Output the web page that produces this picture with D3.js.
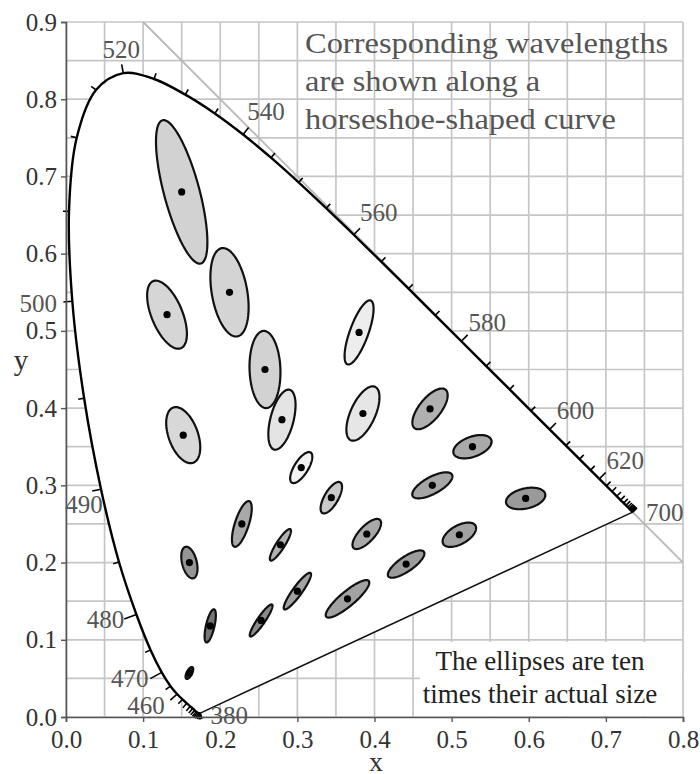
<!DOCTYPE html>
<html>
<head>
<meta charset="utf-8">
<script src="https://cdn.jsdelivr.net/npm/d3@7"></script>
<style>
  html, body { margin: 0; padding: 0; background: #fff; }
  svg { display: block; }
  text { font-family: "Liberation Serif", "Times New Roman", serif; }
</style>
</head>
<body>
<svg id="chart" width="700" height="774"></svg>
<script>
// ---------------- DATA ----------------
// CIE 1931 spectral locus, 5 nm steps
const wavelengths = [380,385,390,395,400,405,410,415,420,425,430,435,440,445,450,455,460,465,470,475,480,485,490,495,500,505,510,515,520,525,530,535,540,545,550,555,560,565,570,575,580,585,590,595,600,605,610,615,620,625,630,635,640,645,650,655,660,665,670,675,680,685,690,695,700];
const locusX = [0.1741,0.1740,0.1738,0.1736,0.1733,0.1730,0.1726,0.1721,0.1714,0.1703,0.1689,0.1669,0.1644,0.1611,0.1566,0.1510,0.1440,0.1355,0.1241,0.1096,0.0913,0.0687,0.0454,0.0235,0.0082,0.0039,0.0139,0.0389,0.0743,0.1142,0.1547,0.1929,0.2296,0.2658,0.3016,0.3373,0.3731,0.4087,0.4441,0.4788,0.5125,0.5448,0.5752,0.6029,0.6270,0.6482,0.6658,0.6801,0.6915,0.7006,0.7079,0.7140,0.7190,0.7230,0.7260,0.7283,0.7300,0.7311,0.7320,0.7327,0.7334,0.7340,0.7344,0.7346,0.7347];
const locusY = [0.0050,0.0050,0.0049,0.0049,0.0048,0.0048,0.0048,0.0048,0.0051,0.0058,0.0069,0.0086,0.0109,0.0138,0.0177,0.0227,0.0297,0.0399,0.0578,0.0868,0.1327,0.2007,0.2950,0.4127,0.5384,0.6548,0.7502,0.8120,0.8338,0.8262,0.8059,0.7816,0.7543,0.7243,0.6923,0.6589,0.6245,0.5896,0.5547,0.5202,0.4866,0.4544,0.4242,0.3965,0.3725,0.3514,0.3340,0.3197,0.3083,0.2993,0.2920,0.2859,0.2809,0.2770,0.2740,0.2717,0.2700,0.2689,0.2680,0.2673,0.2666,0.2660,0.2656,0.2654,0.2653];
const labeledWavelengths = [380,460,470,480,490,500,520,540,560,580,600,620,700];

// MacAdam (1942) ellipses: centre x, y, semi-axes a, b (x 1e-3), angle theta (deg)
const ellX     = [0.160,0.187,0.253,0.150,0.131,0.212,0.258,0.152,0.280,0.380,0.160,0.228,0.305,0.385,0.472,0.527,0.475,0.510,0.596,0.344,0.390,0.441,0.278,0.300,0.365];
const ellY     = [0.057,0.118,0.125,0.680,0.521,0.550,0.450,0.365,0.385,0.498,0.200,0.250,0.323,0.393,0.399,0.350,0.300,0.236,0.283,0.284,0.237,0.198,0.223,0.163,0.153];
const ellA     = [0.85,2.2,2.5,9.6,4.7,5.8,5.0,3.8,4.0,4.4,2.1,3.1,2.3,3.8,3.2,2.6,2.9,2.4,2.6,2.3,2.5,2.8,2.4,2.9,3.6];
const ellB     = [0.35,0.55,0.5,2.3,2.0,2.3,2.0,1.9,1.5,1.2,0.95,0.9,0.9,1.6,1.4,1.3,1.1,1.2,1.3,0.9,1.0,0.95,0.55,0.6,0.95];
const ellTheta = [62.5,77,55.5,105,112.5,100,92,110,75.5,70,104,72,58,65.5,51,20,28.5,29.5,13,60,47,34.5,57.5,54,40];
const magnification = 10;

const xTicks = [0,0.1,0.2,0.3,0.4,0.5,0.6,0.7,0.8];
const yTicks = [0,0.1,0.2,0.3,0.4,0.5,0.6,0.7,0.8,0.9];
const gridX = d3.range(0, 0.8001, 0.05);
const gridY = d3.range(0, 0.9001, 0.05);

// ---------------- STYLE ----------------
const ellipseFills = ["#2a2a2a","#767676","#8a8a8a","#d2d2d2","#d6d6d6","#d4d4d4","#d2d2d2","#d8d8d8","#e4e4e4","#ededed","#959595","#a8a8a8","#f3f3f3","#e6e6e6","#b0b0b0","#a9a9a9","#a6a6a6","#a2a2a2","#9a9a9a","#c9c9c9","#a8a8a8","#9c9c9c","#b2b2b2","#a2a2a2","#a2a2a2"];

// ---------------- CHART ----------------
const svg = d3.select("#chart");
const x = d3.scaleLinear().domain([0, 0.8]).range([66, 683]);
const y = d3.scaleLinear().domain([0, 0.9]).range([717, 22]);

const gridColor = "#c6c6c6";
const g = svg.append("g");

// grid
g.append("g").selectAll("line").data(gridX).join("line")
  .attr("x1", d => x(d)).attr("x2", d => x(d))
  .attr("y1", y(0)).attr("y2", y(0.9))
  .attr("stroke", gridColor).attr("stroke-width", 1.7);
g.append("g").selectAll("line").data(gridY).join("line")
  .attr("x1", x(0)).attr("x2", x(0.8))
  .attr("y1", d => y(d)).attr("y2", d => y(d))
  .attr("stroke", gridColor).attr("stroke-width", 1.7);

// x + y = 1 line
g.append("line")
  .attr("x1", x(0.1)).attr("y1", y(0.9))
  .attr("x2", x(0.8)).attr("y2", y(0.2))
  .attr("stroke", "#b8b8b8").attr("stroke-width", 1.8);

// locus points
const pts = wavelengths.map((w, i) => ({ w, px: x(locusX[i]), py: y(locusY[i]) }));

// horseshoe white fill
const closed = d3.line().x(d => d.px).y(d => d.py).curve(d3.curveLinearClosed);
g.append("path").attr("d", closed(pts)).attr("fill", "#fff").attr("stroke", "none");

// white box behind bottom note
g.append("rect").attr("x", 420).attr("y", 642).attr("width", 262).attr("height", 74).attr("fill", "#fff");

// purple line
g.append("line")
  .attr("x1", pts[0].px).attr("y1", pts[0].py)
  .attr("x2", pts[pts.length-1].px).attr("y2", pts[pts.length-1].py)
  .attr("stroke", "#111").attr("stroke-width", 1.6);

// spectral locus
const open = d3.line().x(d => d.px).y(d => d.py).curve(d3.curveCatmullRom);
g.append("path").attr("d", open(pts)).attr("fill", "none").attr("stroke", "#000").attr("stroke-width", 2.4);

// ticks along the locus (outward normals)
function normalAt(i) {
  const a = pts[Math.max(0, i - 1)], b = pts[Math.min(pts.length - 1, i + 1)];
  let dx = b.px - a.px, dy = b.py - a.py;
  const L = Math.hypot(dx, dy) || 1;
  return [dy / L, -dx / L];
}
const tickData = pts.map((p, i) => {
  const n = normalAt(i);
  const labeled = labeledWavelengths.includes(p.w);
  let len = labeled ? 9 : 6;
  if (p.w === 470 || p.w === 480) len = 13;
  if (p.w === 380 || p.w === 700) len = 6;
  return { p, n, len };
});
g.append("g").selectAll("line").data(tickData).join("line")
  .attr("x1", d => d.p.px).attr("y1", d => d.p.py)
  .attr("x2", d => d.p.px + d.n[0] * d.len).attr("y2", d => d.p.py + d.n[1] * d.len)
  .attr("stroke", "#000").attr("stroke-width", 1.6);

// wavelength labels (offsets from locus point, layout only)
const labelOffset = {380:[29,2],460:[-31,11],470:[-32,6],480:[-31,5],490:[-17,15],500:[-34,2],520:[-2,-24],540:[23,-23],560:[25,-22],580:[26,-19],600:[26,-19],620:[26,-19],700:[32,0]};
g.append("g").selectAll("text").data(pts.filter(p => labeledWavelengths.includes(p.w))).join("text")
  .attr("x", d => d.px + labelOffset[d.w][0])
  .attr("y", d => d.py + labelOffset[d.w][1])
  .attr("dy", "0.35em")
  .attr("text-anchor", "middle")
  .attr("font-size", 25)
  .attr("fill", "#555")
  .text(d => d.w);

// axes
const axL = g.append("g").attr("transform", `translate(${x(0)},0)`)
  .call(d3.axisLeft(y).tickValues(yTicks).tickFormat(d3.format(".1f")).tickSize(5).tickPadding(4));
const axB = g.append("g").attr("transform", `translate(0,${y(0)})`)
  .call(d3.axisBottom(x).tickValues(xTicks).tickFormat(d3.format(".1f")).tickSize(5).tickPadding(8));
[axL, axB].forEach(ax => {
  ax.select(".domain").attr("stroke", "#555").attr("stroke-width", 1.6);
  ax.selectAll(".tick line").attr("stroke", "#555").attr("stroke-width", 1.4);
  ax.selectAll(".tick text").attr("font-size", 25).attr("fill", "#333")
    .attr("font-family", "\"Liberation Serif\", \"Times New Roman\", serif");
});

// axis titles
g.append("text").attr("x", 21).attr("y", 370).attr("text-anchor", "middle")
  .attr("font-size", 29).attr("fill", "#333").text("y");
g.append("text").attr("x", 376).attr("y", 771).attr("text-anchor", "middle")
  .attr("font-size", 28).attr("fill", "#333").text("x");

// ellipses
const ellipseLine = d3.line().x(d => d[0]).y(d => d[1]).curve(d3.curveLinearClosed);
const ellipses = ellX.map((cx, i) => {
  const A = ellA[i] * 1e-3 * magnification, B = ellB[i] * 1e-3 * magnification;
  const th = ellTheta[i] * Math.PI / 180;
  const ring = d3.range(0, 120).map(k => {
    const t = k / 120 * 2 * Math.PI;
    const ex = cx + A * Math.cos(t) * Math.cos(th) - B * Math.sin(t) * Math.sin(th);
    const ey = ellY[i] + A * Math.cos(t) * Math.sin(th) + B * Math.sin(t) * Math.cos(th);
    return [x(ex), y(ey)];
  });
  return { i, ring };
});
g.append("g").selectAll("path").data(ellipses).join("path")
  .attr("d", d => ellipseLine(d.ring))
  .attr("fill", d => ellipseFills[d.i])
  .attr("stroke", "#111").attr("stroke-width", 2.2);
g.append("g").selectAll("circle").data(ellX).join("circle")
  .attr("cx", d => x(d)).attr("cy", (d, i) => y(ellY[i]))
  .attr("r", 3.6).attr("fill", "#000");

// annotation top
const noteTop = g.append("text").attr("font-size", 29).attr("fill", "#555")
  .attr("transform", "translate(305,0) scale(1.12,1)");
["Corresponding wavelengths", "are shown along a", "horseshoe-shaped curve"].forEach((s, k) => {
  noteTop.append("tspan").attr("x", 0).attr("y", 53 + k * 38).text(s);
});

// annotation bottom
const noteBot = g.append("text").attr("font-size", 27).attr("fill", "#222").attr("text-anchor", "middle");
["The ellipses are ten", "times their actual size"].forEach((s, k) => {
  noteBot.append("tspan").attr("x", 540).attr("y", 670 + k * 33).text(s);
});
</script>
</body>
</html>
